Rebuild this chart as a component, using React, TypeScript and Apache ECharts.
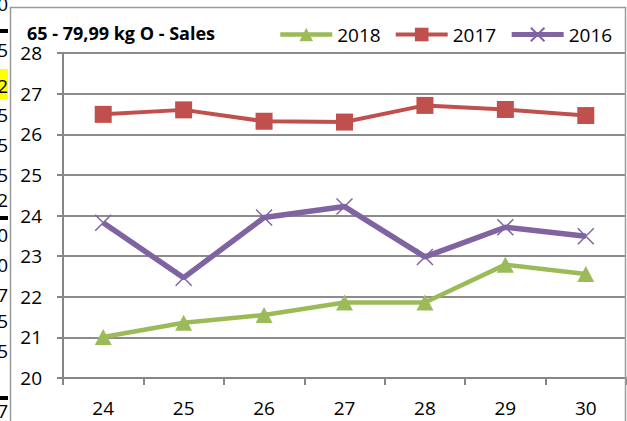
import React, { useEffect, useRef } from "react";
import * as echarts from "echarts";

const categories = ["24", "25", "26", "27", "28", "29", "30"];
const series2018 = [21.01, 21.36, 21.55, 21.86, 21.86, 22.79, 22.56];
const series2017 = [26.49, 26.6, 26.32, 26.3, 26.71, 26.61, 26.46];
const series2016 = [23.82, 22.47, 23.95, 24.22, 22.98, 23.71, 23.49];
const titleText = "65 - 79,99 kg O - Sales";
const sideDigits = ["0", "5", "2", "5", "5", "5", "2", "0", "0", "7", "5", "5", "7"];
const sideDigitY = [4, 50, 86, 115, 145, 175, 200, 235, 265, 295, 321, 351, 411];

const FONT = "'Open Sans', 'Liberation Sans', sans-serif";
const GREEN = "#9BBB59";
const RED = "#C0504D";
const PURPLE = "#8064A2";

export default function App() {
  const ref = useRef<HTMLDivElement>(null);
  useEffect(() => {
    document.body.style.margin = "0";
    const chart = echarts.init(ref.current!, null, { renderer: "svg" });
    const X = "path://M0,0L10,10M10,0L0,10";
    const sideGraphics: any[] = sideDigits.map((d, i) => ({
      type: "text",
      x: 8,
      y: sideDigitY[i],
      style: {
        text: d,
        fill: "#000",
        font: `19px ${FONT}`,
        align: "right",
        verticalAlign: "middle",
      },
      z: 10,
    }));
    chart.setOption({
      animation: false,
      backgroundColor: "#fff",
      textStyle: { fontFamily: FONT },
      title: {
        text: titleText,
        left: 27,
        top: 24,
        padding: 0,
        textStyle: { fontSize: 18, lineHeight: 17, fontWeight: "bold", color: "#000", fontFamily: FONT },
      },
      legend: {
        data: [
          { name: "2018", lineStyle: { width: 4.5, color: GREEN } },
          { name: "2017", lineStyle: { width: 4, color: RED } },
          { name: "2016", lineStyle: { width: 5, color: PURPLE } },
        ],
        left: 278,
        top: 25,
        width: 349,
        itemWidth: 52,
        itemHeight: 17,
        itemGap: 13,
        padding: 0,
        textStyle: { fontSize: 19, color: "#000", fontFamily: FONT },
      },
      grid: { left: 63, top: 53, width: 563, height: 325, containLabel: false },
      xAxis: {
        type: "category",
        data: categories,
        boundaryGap: true,
        axisLine: { lineStyle: { color: "#868686", width: 2 } },
        axisTick: { show: true, length: 7, interval: 0, lineStyle: { color: "#868686", width: 2 } },
        axisLabel: { fontSize: 19, color: "#000", margin: 20, fontFamily: FONT },
        splitLine: { show: false },
      },
      yAxis: {
        type: "value",
        min: 20,
        max: 28,
        interval: 1,
        axisLine: { show: true, lineStyle: { color: "#868686", width: 2 } },
        axisTick: { show: true, length: 6, lineStyle: { color: "#868686", width: 2 } },
        axisLabel: { fontSize: 19, lineHeight: 16, color: "#000", margin: 21, fontFamily: FONT },
        splitLine: { show: true, lineStyle: { color: "#8c8c8c", width: 2 } },
      },
      series: [
        {
          name: "2018",
          type: "line",
          data: series2018,
          symbol: "triangle",
          symbolSize: [17, 16],
          lineStyle: { color: GREEN, width: 4.5 },
          itemStyle: { color: GREEN },
          z: 3,
        },
        {
          name: "2017",
          type: "line",
          data: series2017,
          symbol: "rect",
          symbolSize: 17,
          lineStyle: { color: RED, width: 4 },
          itemStyle: { color: RED },
          z: 4,
        },
        {
          name: "2016",
          type: "line",
          data: series2016,
          symbol: X,
          symbolSize: 16,
          lineStyle: { color: PURPLE, width: 5.5 },
          itemStyle: { color: PURPLE, borderColor: PURPLE, borderWidth: 1.5 },
          z: 5,
        },
      ],
      graphic: [
        {
          type: "rect",
          shape: { x: 10.5, y: 7.5, width: 615, height: 500 },
          style: { fill: "none", stroke: "#9a9a9a", lineWidth: 1.5 },
          z: 1,
        },
        {
          type: "rect",
          shape: { x: 0, y: 69, width: 8, height: 30 },
          style: { fill: "#FFFF00" },
          z: 9,
        },
        { type: "rect", shape: { x: 0, y: 29, width: 8, height: 4 }, style: { fill: "#000" }, z: 9 },
        { type: "rect", shape: { x: 0, y: 216, width: 8, height: 4 }, style: { fill: "#000" }, z: 9 },
        { type: "rect", shape: { x: 0, y: 396, width: 8, height: 4 }, style: { fill: "#000" }, z: 9 },
        ...sideGraphics,
      ],
    });
    return () => chart.dispose();
  }, []);
  return <div ref={ref} style={{ width: 627, height: 421 }} />;
}
